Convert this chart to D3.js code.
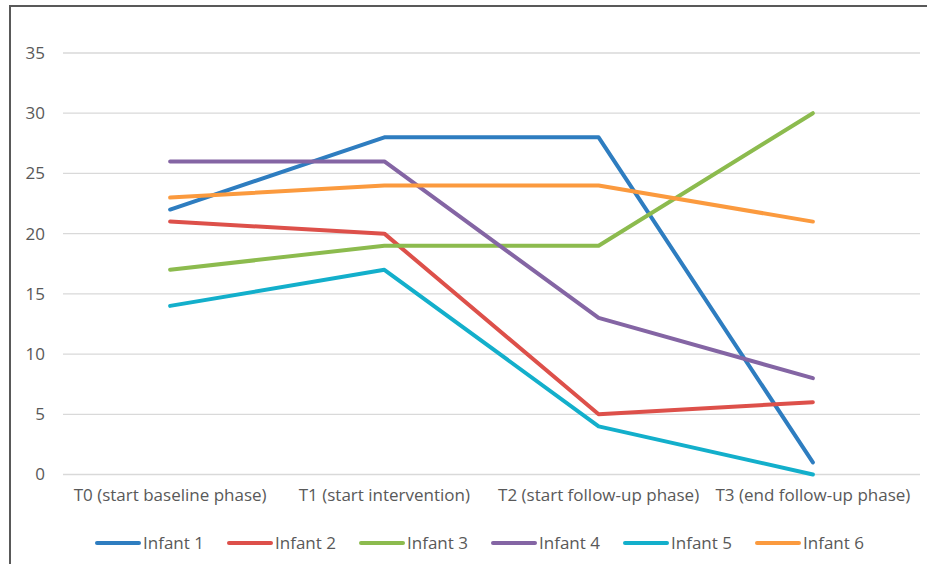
<!DOCTYPE html>
<html>
<head>
<meta charset="utf-8">
<script src="https://cdn.jsdelivr.net/npm/d3@7"></script>
<style>
  body { margin: 0; background: #fff; }
  svg { display: block; font-family: "Open Sans", "Noto Sans", sans-serif; }
</style>
</head>
<body>
<svg id="chart"></svg>
<script>
// data
const phases = ['T0 (start baseline phase)', 'T1 (start intervention)', 'T2 (start follow-up phase)', 'T3 (end follow-up phase)'];
const infants = ['Infant 1', 'Infant 2', 'Infant 3', 'Infant 4', 'Infant 5', 'Infant 6'];
const infant1 = [22, 28, 28, 1];
const infant2 = [21, 20, 5, 6];
const infant3 = [17, 19, 19, 30];
const infant4 = [26, 26, 13, 8];
const infant5 = [14, 17, 4, 0];
const infant6 = [23, 24, 24, 21];
const yTicks = [0, 5, 10, 15, 20, 25, 30, 35];

const colors = ['#2E7DC0', '#DD504A', '#8CBB4E', '#8465A4', '#13AFCB', '#FB9A3E'];

const seriesValues = [infant1, infant2, infant3, infant4, infant5, infant6];
const series = infants.map((name, i) => ({
  name: name,
  color: colors[i],
  values: seriesValues[i].map((v, j) => ({ phase: phases[j], value: v })),
}));

const width = 927;
const height = 564;
const plot = { left: 63, right: 920, top: 53, bottom: 474.5 };
const fontSize = 17;

const svg = d3.select('#chart')
  .attr('width', width)
  .attr('height', height);

// chart border (only left/top visible in the crop)
svg.append('path')
  .attr('d', `M10,${height + 5} L10,6 L${width + 5},6`)
  .attr('fill', 'none')
  .attr('stroke', '#595959')
  .attr('stroke-width', 2);

const x = d3.scaleBand()
  .domain(phases)
  .range([plot.left, plot.right]);

const y = d3.scaleLinear()
  .domain([0, 35])
  .range([plot.bottom, plot.top]);

// gridlines
svg.append('g')
  .selectAll('line')
  .data(yTicks)
  .join('line')
  .attr('x1', plot.left)
  .attr('x2', plot.right)
  .attr('y1', d => y(d))
  .attr('y2', d => y(d))
  .attr('stroke', '#d9d9d9')
  .attr('stroke-width', 1.3);

// y axis labels
const yAxis = d3.axisLeft(y).tickValues(yTicks).tickSize(0).tickPadding(0);
svg.append('g')
  .attr('transform', 'translate(45,0)')
  .call(yAxis)
  .call(g => g.select('.domain').remove())
  .call(g => g.selectAll('text')
    .attr('fill', '#595959')
    .attr('font-size', fontSize)
    .attr('font-family', '"Open Sans", "Noto Sans", sans-serif'));

// x axis labels
const xAxis = d3.axisBottom(x).tickSize(0).tickPadding(0);
svg.append('g')
  .attr('transform', `translate(0,${plot.bottom + 14})`)
  .call(xAxis)
  .call(g => g.select('.domain').remove())
  .call(g => g.selectAll('text')
    .attr('fill', '#595959')
    .attr('font-size', fontSize)
    .attr('font-family', '"Open Sans", "Noto Sans", sans-serif'));

// lines
const line = d3.line()
  .x(d => x(d.phase) + x.bandwidth() / 2)
  .y(d => y(d.value));

svg.append('g')
  .selectAll('path')
  .data(series)
  .join('path')
  .attr('d', d => line(d.values))
  .attr('fill', 'none')
  .attr('stroke', d => d.color)
  .attr('stroke-width', 4)
  .attr('stroke-linejoin', 'round')
  .attr('stroke-linecap', 'round');

// legend
const legendX = d3.scalePoint()
  .domain(infants)
  .range([95, 95 + 132 * 5]);

const legend = svg.append('g')
  .selectAll('g')
  .data(series)
  .join('g')
  .attr('transform', d => `translate(${legendX(d.name)},543)`);

legend.append('line')
  .attr('x1', 2)
  .attr('x2', 44)
  .attr('stroke', d => d.color)
  .attr('stroke-width', 4)
  .attr('stroke-linecap', 'round');

legend.append('text')
  .attr('x', 48)
  .attr('dy', '0.35em')
  .attr('fill', '#595959')
  .attr('font-size', fontSize)
  .text(d => d.name);
</script>
</body>
</html>
